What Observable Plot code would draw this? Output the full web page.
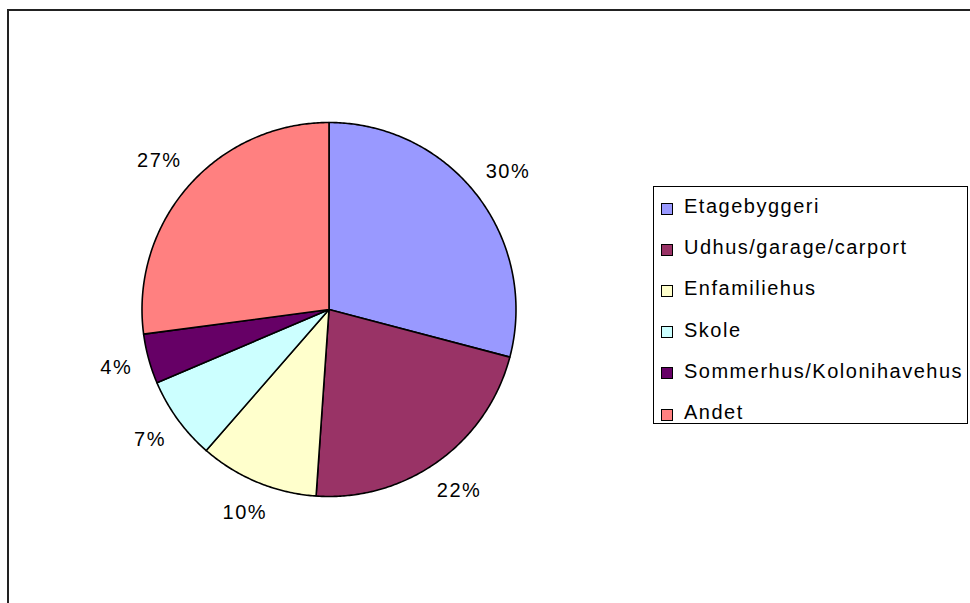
<!DOCTYPE html>
<html>
<head>
<meta charset="utf-8">
<script src="https://cdn.jsdelivr.net/npm/d3@7"></script>
<script src="https://cdn.jsdelivr.net/npm/@observablehq/plot@0.6"></script>
<style>
  html, body { margin: 0; padding: 0; background: #fff; }
  #wrap { position: relative; width: 970px; height: 603px; overflow: hidden; font-family: "Liberation Sans", Arial, sans-serif; }
  #frame { position: absolute; left: 7px; top: 9px; width: 1000px; height: 700px; border-left: 2px solid #222; border-top: 2px solid #222; }
  #chart { position: absolute; left: 0; top: 0; }
  #chart svg text { letter-spacing: 1.5px; }
  #legend { position: absolute; left: 653px; top: 186px; width: 315px; height: 238px; border: 1px solid #000; background: #fff; padding-top: 1px; box-sizing: border-box; }
  .row { height: 41.2px; display: flex; align-items: center; }
  .sw { width: 10px; height: 10px; border: 1.5px solid #000; margin-left: 7px; margin-right: 11px; flex: none; }
  .lab { font-size: 20px; letter-spacing: 1.5px; color: #000; white-space: nowrap; position: relative; top: -2px; }
</style>
</head>
<body>
<div id="wrap">
  <div id="frame"></div>
  <div id="chart"></div>
  <div id="legend"></div>
</div>
<script>
const categories = ["Etagebyggeri", "Udhus/garage/carport", "Enfamiliehus", "Skole", "Sommerhus/Kolonihavehus", "Andet"];
const values = [29.1, 22.0, 10.3, 7.2, 4.3, 27.1];
const labels = ["30%", "22%", "10%", "7%", "4%", "27%"];
const colors = ["#9999FF", "#993366", "#FFFFCC", "#CCFFFF", "#660066", "#FF8080"];

const rows = categories.map((c, i) => ({category: c, value: values[i], label: labels[i]}));
const arcs = d3.pie().sort(null).value(d => d.value)(rows);

const R = 187; // pixel radius, matches the x/y ranges below
// polygon outline of each slice in unit coordinates (y up)
const poly = [];
for (const a of arcs) {
  const c = a.data.category;
  poly.push({category: c, x: 0, y: 0});
  const n = Math.max(8, Math.ceil((a.endAngle - a.startAngle) / 0.01));
  for (let k = 0; k <= n; k++) {
    const t = a.startAngle + (a.endAngle - a.startAngle) * k / n;
    poly.push({category: c, x: Math.sin(t), y: Math.cos(t)});
  }
  poly.push({category: c, x: 0, y: 0});
}
// label placed outside the arc, with its box edge at a fixed gap from the pie
const labelPts = arcs.map(a => {
  const m = (a.startAngle + a.endAngle) / 2;
  const w = 12 * a.data.label.length + 9, h = 20;
  const dist = R + 15 + (w / 2) * Math.abs(Math.sin(m)) + (h / 2) * Math.abs(Math.cos(m));
  const f = dist / R;
  return {label: a.data.label, x: f * Math.sin(m), y: f * Math.cos(m)};
});

const plot = Plot.plot({
  width: 970,
  height: 603,
  margin: 0,
  style: {fontFamily: "'Liberation Sans', Arial, sans-serif", background: "transparent"},
  x: {domain: [-1, 1], range: [328.5 - R, 328.5 + R], axis: null},
  y: {domain: [-1, 1], range: [309 + R, 309 - R], axis: null},
  color: {type: "ordinal", domain: categories, range: colors},
  marks: [
    Plot.line(poly, {x: "x", y: "y", z: "category", fill: "category", stroke: "#000", strokeWidth: 1.6, strokeLinejoin: "round"}),
    Plot.text(labelPts, {x: "x", y: "y", text: "label", fontSize: 20, fill: "#000"})
  ]
});
document.getElementById("chart").appendChild(plot);

const legend = document.getElementById("legend");
categories.forEach((c, i) => {
  const r = document.createElement("div");
  r.className = "row";
  const s = document.createElement("div");
  s.className = "sw";
  s.style.background = colors[i];
  const t = document.createElement("span");
  t.className = "lab";
  t.textContent = c;
  r.appendChild(s);
  r.appendChild(t);
  legend.appendChild(r);
});
</script>
</body>
</html>
